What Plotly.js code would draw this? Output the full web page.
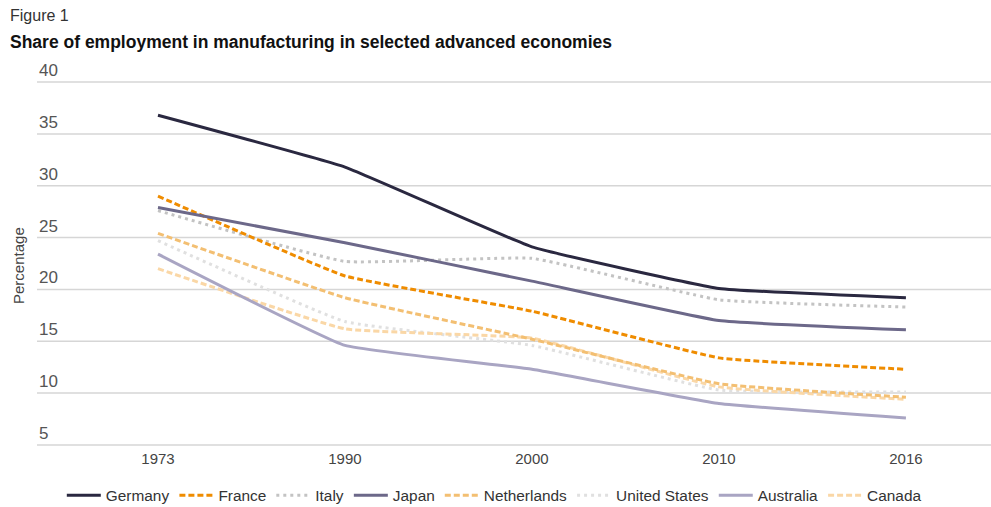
<!DOCTYPE html>
<html>
<head>
<meta charset="utf-8">
<script src="https://cdn.plot.ly/plotly-3.0.1.min.js"></script>
<style>
  html, body { margin: 0; padding: 0; background: #fff; }
  #chart { width: 991px; height: 507px; }
</style>
</head>
<body>
<div id="chart"></div>
<script>
// Survey years along the x axis
const years = ['1973', '1990', '2000', '2010', '2016'];

// Manufacturing share of total employment (%)
const germany      = [36.8, 31.8, 24.1, 20.1, 19.2];
const france       = [29.0, 21.3, 17.9, 13.4, 12.3];
const italy        = [27.6, 22.7, 23.0, 19.0, 18.3];
const japan        = [27.9, 24.5, 20.8, 17.0, 16.1];
const netherlands  = [25.4, 19.2, 15.2, 10.9, 9.6];
const unitedStates = [24.7, 16.9, 14.6, 10.3, 10.1];
const australia    = [23.4, 14.6, 12.3, 9.0, 7.6];
const canada       = [22.0, 16.2, 15.3, 10.6, 9.4];

const yTicks = [5, 10, 15, 20, 25, 30, 35, 40];

const series = [
  { name: 'Germany',       y: germany,      color: '#2a2840', dash: 'solid'   },
  { name: 'France',        y: france,       color: '#ef8c00', dash: '6px,3px' },
  { name: 'Italy',         y: italy,        color: '#c3c3c3', dash: '3px,4px' },
  { name: 'Japan',         y: japan,        color: '#6c6889', dash: 'solid'   },
  { name: 'Netherlands',   y: netherlands,  color: '#f3bf72', dash: '6px,3px' },
  { name: 'United States', y: unitedStates, color: '#e0e0e0', dash: '3px,4px' },
  { name: 'Australia',     y: australia,    color: '#a9a5c3', dash: 'solid'   },
  { name: 'Canada',        y: canada,       color: '#fad7a6', dash: '6px,3px' }
];

const traces = series.map((s, i) => ({
  type: 'scatter',
  mode: 'lines',
  name: s.name,
  legendrank: i + 1,
  x: years,
  y: s.y,
  line: { color: s.color, width: 3, dash: s.dash, shape: 'spline', smoothing: 0.3 },
  hoverinfo: 'skip'
}));

// Draw the lighter series first so the darker ones sit on top
const drawOrder = [5, 7, 6, 4, 2, 1, 3, 0];
const ordered = drawOrder.map(i => traces[i]);

const gridColor = '#d6d6d6';

// Horizontal gridlines across the full plot width, one per tick value
const gridLines = yTicks.map(v => ({
  type: 'line',
  layer: 'below',
  xref: 'paper', yref: 'y',
  x0: 0, x1: 1, y0: v, y1: v,
  line: { color: gridColor, width: 1.5 }
}));

// Y tick labels sit just above their gridlines, at the left edge of the plot
const yLabels = yTicks.map(v => ({
  text: String(v),
  xref: 'paper', yref: 'y',
  x: 0, y: v,
  xanchor: 'left', yanchor: 'bottom',
  yshift: 0,
  showarrow: false,
  font: { size: 17, color: '#555' }
}));

const layout = {
  width: 991,
  height: 507,
  margin: { l: 37, r: 0, t: 81, b: 61, autoexpand: false },
  paper_bgcolor: '#ffffff',
  plot_bgcolor: '#ffffff',
  font: { family: 'Liberation Sans, Arial, sans-serif', color: '#444' },
  showlegend: true,
  legend: {
    orientation: 'h',
    x: 0.026, xanchor: 'left',
    y: -0.09, yanchor: 'top',
    font: { size: 15.4, color: '#333' },
    itemwidth: 34,
    traceorder: 'normal'
  },
  xaxis: {
    type: 'category',
    range: [-0.647, 4.455],
    showgrid: false,
    zeroline: false,
    showline: false,
    ticks: '',
    ticklabelstandoff: 2,
    tickfont: { size: 15, color: '#444' },
    fixedrange: true
  },
  yaxis: {
    range: [4.9, 40.1],
    showticklabels: false,
    showgrid: false,
    zeroline: false,
    showline: false,
    ticks: '',
    fixedrange: true
  },
  shapes: gridLines,
  annotations: yLabels.concat([
    {
      text: 'Figure 1',
      xref: 'paper', yref: 'paper',
      x: -29 / 954, y: 1 + (81 - 5) / 365,
      xanchor: 'left', yanchor: 'top',
      showarrow: false,
      font: { size: 16, color: '#333' }
    },
    {
      text: '<b>Share of employment in manufacturing in selected advanced economies</b>',
      xref: 'paper', yref: 'paper',
      x: -29 / 954, y: 1 + (81 - 30) / 365,
      xanchor: 'left', yanchor: 'top',
      showarrow: false,
      font: { size: 17.5, color: '#111' }
    },
    {
      text: 'Percentage',
      xref: 'paper', yref: 'paper',
      x: -19 / 954, y: (446 - 266) / 365,
      xanchor: 'center', yanchor: 'middle',
      textangle: -90,
      showarrow: false,
      font: { size: 15, color: '#444' }
    }
  ])
};

Plotly.newPlot('chart', ordered, layout, { displayModeBar: false, staticPlot: true });
</script>
</body>
</html>
